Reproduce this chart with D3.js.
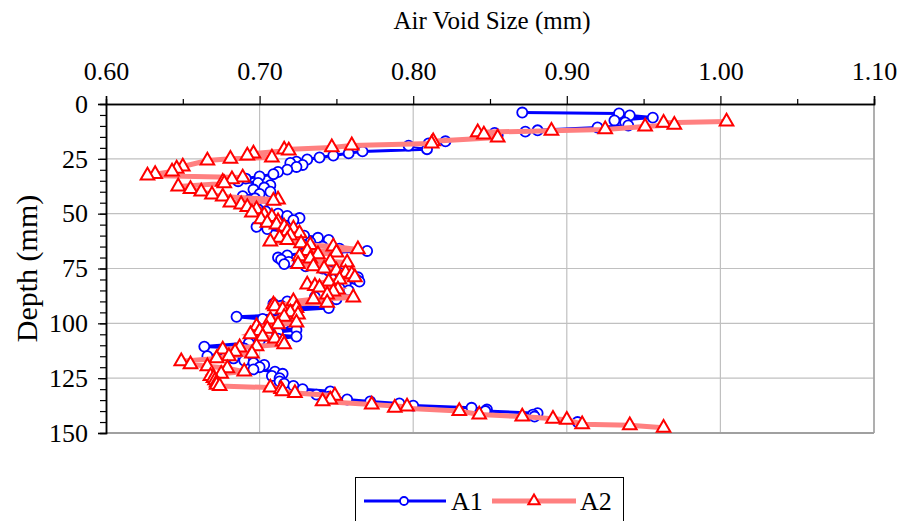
<!DOCTYPE html>
<html>
<head>
<meta charset="utf-8">
<script src="https://cdn.jsdelivr.net/npm/d3@7"></script>
<style>
body{margin:0;background:#fff;}
text{font-family:"Liberation Serif","Times New Roman",serif;fill:#000;}
</style>
</head>
<body>
<div id="plot"></div>
<script>
// depth (mm) and air void size (mm) for core A1
var a1Depth = [3.9,4.3,5.2,6.2,7.5,8.4,9.8,10.7,12.0,12.6,13.2,14.3,17.0,18.0,19.0,20.6,21.6,22.5,23.5,24.4,25.3,26.3,26.9,27.8,28.7,29.9,31.0,32.0,33.0,34.0,35.2,36.0,37.0,38.1,39.0,40.0,41.0,42.0,43.0,44.0,45.0,46.0,47.0,48.0,49.0,50.0,51.0,52.0,53.0,54.0,55.0,56.0,57.0,58.0,59.0,60.0,61.0,62.0,63.0,64.0,65.0,66.0,67.0,68.0,69.0,70.0,71.0,72.0,73.0,74.0,75.0,76.0,77.0,78.0,79.0,80.0,81.0,82.0,83.0,84.0,85.0,86.0,87.0,88.0,89.0,90.0,91.0,92.0,93.0,94.0,95.0,96.0,97.0,98.0,99.0,100.0,101.0,102.0,103.0,104.0,105.0,106.0,107.0,108.0,109.0,110.6,111.5,112.5,113.5,115.0,116.0,117.0,118.0,119.0,120.0,121.0,122.0,123.0,124.0,125.0,126.5,127.5,128.5,130.0,131.0,132.5,133.5,134.7,135.6,136.5,137.5,138.5,139.3,140.0,141.0,141.6,142.5,145.0];
var a1Size = [0.871,0.934,0.941,0.956,0.931,0.938,0.940,0.920,0.881,0.873,0.853,0.855,0.821,0.810,0.797,0.809,0.767,0.758,0.748,0.739,0.731,0.724,0.720,0.728,0.724,0.718,0.712,0.709,0.700,0.691,0.686,0.699,0.707,0.703,0.696,0.707,0.700,0.689,0.697,0.693,0.688,0.696,0.702,0.699,0.704,0.712,0.718,0.726,0.722,0.712,0.700,0.698,0.705,0.716,0.722,0.729,0.738,0.745,0.733,0.728,0.741,0.752,0.770,0.729,0.718,0.712,0.714,0.719,0.716,0.730,0.741,0.745,0.752,0.760,0.764,0.763,0.765,0.756,0.749,0.752,0.758,0.745,0.740,0.736,0.750,0.718,0.709,0.714,0.745,0.722,0.715,0.719,0.685,0.702,0.710,0.716,0.708,0.712,0.724,0.712,0.705,0.724,0.712,0.700,0.693,0.664,0.690,0.683,0.678,0.666,0.683,0.690,0.696,0.703,0.700,0.696,0.710,0.715,0.708,0.713,0.713,0.716,0.722,0.728,0.746,0.737,0.745,0.757,0.772,0.791,0.800,0.838,0.848,0.847,0.881,0.878,0.879,0.907];

// depth (mm) and air void size (mm) for core A2
var a2Depth = [8.0,8.6,9.5,10.3,11.6,12.2,12.9,13.9,15.3,17.0,18.0,18.9,19.8,20.8,21.2,22.6,23.5,24.4,25.0,25.8,28.5,29.5,30.8,32.0,32.6,33.5,34.4,35.5,36.2,37.6,38.8,39.9,41.3,42.2,43.6,44.2,44.9,45.8,47.0,48.0,49.5,50.5,51.5,52.6,53.5,54.2,55.0,56.0,56.8,58.0,59.0,60.0,61.0,62.0,62.7,63.5,64.3,65.0,66.3,67.0,67.7,68.5,69.5,70.5,71.8,72.3,73.0,74.0,75.0,76.0,77.0,77.7,79.0,80.0,81.0,82.3,83.0,83.7,84.6,85.5,86.9,88.2,89.0,90.0,90.6,91.5,92.3,93.0,93.7,95.0,96.0,97.0,98.3,99.7,100.5,101.4,102.5,103.5,105.0,106.0,107.0,108.3,109.6,110.5,111.0,112.0,113.0,113.8,115.0,116.0,117.3,118.7,119.6,120.5,122.0,123.0,124.0,125.0,126.0,127.0,128.0,128.6,129.3,130.0,131.0,131.8,133.0,134.8,135.6,137.0,138.0,138.5,140.0,141.6,142.5,143.5,144.0,146.0,146.5,147.6];
var a2Size = [1.004,0.963,0.970,0.951,0.925,0.890,0.842,0.846,0.855,0.813,0.812,0.760,0.747,0.716,0.719,0.696,0.692,0.708,0.681,0.666,0.650,0.646,0.643,0.632,0.627,0.689,0.682,0.676,0.677,0.647,0.655,0.662,0.669,0.676,0.712,0.709,0.681,0.688,0.692,0.698,0.695,0.703,0.708,0.701,0.712,0.705,0.711,0.716,0.722,0.718,0.726,0.720,0.713,0.718,0.707,0.727,0.733,0.748,0.764,0.731,0.750,0.738,0.726,0.733,0.746,0.757,0.725,0.735,0.742,0.750,0.756,0.760,0.762,0.752,0.745,0.731,0.736,0.739,0.751,0.748,0.744,0.761,0.735,0.722,0.744,0.709,0.710,0.724,0.715,0.720,0.725,0.716,0.707,0.724,0.712,0.698,0.705,0.700,0.694,0.702,0.710,0.715,0.716,0.698,0.687,0.676,0.684,0.695,0.680,0.672,0.649,0.655,0.666,0.679,0.690,0.675,0.668,0.670,0.671,0.672,0.672,0.674,0.707,0.714,0.715,0.723,0.749,0.746,0.741,0.773,0.796,0.788,0.830,0.843,0.871,0.891,0.900,0.910,0.941,0.963];

var xTicks = [0.60,0.70,0.80,0.90,1.00,1.10];
var yTicks = [0,25,50,75,100,125,150];
var seriesNames = ['A1','A2'];

var W = 898, H = 521;
var margin = {t:104, r:24, b:88, l:106};
var width = W - margin.l - margin.r,
    height = H - margin.t - margin.b;

var svg = d3.select('#plot').append('svg')
    .attr('width', W)
    .attr('height', H);

var plot = svg.append('g')
    .attr('transform','translate('+margin.l+','+margin.t+')');

var x = d3.scaleLinear().domain([0.6,1.1]).range([0,width]);
var y = d3.scaleLinear().domain([0,150]).range([0,height]);

// gridlines
plot.selectAll('.vgrid').data(xTicks.slice(1)).enter().append('line')
    .attr('x1', d => x(d)).attr('x2', d => x(d))
    .attr('y1', 0).attr('y2', height)
    .attr('stroke', '#c0c0c0').attr('stroke-width', 1.2);
plot.selectAll('.hgrid').data(yTicks.slice(1)).enter().append('line')
    .attr('x1', 0).attr('x2', width)
    .attr('y1', d => y(d)).attr('y2', d => y(d))
    .attr('stroke', '#c0c0c0').attr('stroke-width', 1.2);
// bottom border is a bit heavier
plot.append('line').attr('x1',0).attr('x2',width).attr('y1',height).attr('y2',height)
    .attr('stroke','#a0a0a0').attr('stroke-width',2);
plot.append('line').attr('x1',width).attr('x2',width).attr('y1',0).attr('y2',height)
    .attr('stroke','#a0a0a0').attr('stroke-width',1.5);

// axes on top and left
var xMinor = d3.axisTop(x).tickValues(d3.range(0.65,1.1,0.1)).tickSize(5).tickFormat('');
var xMajor = d3.axisTop(x).tickValues(xTicks).tickSize(8).tickPadding(16).tickFormat(d3.format('.2f'));
var yMinor = d3.axisLeft(y).tickValues(d3.range(5,150,5)).tickSize(6).tickFormat('');
var yMajor = d3.axisLeft(y).tickValues(yTicks).tickSize(8).tickPadding(10);

[xMinor, xMajor, yMinor, yMajor].forEach(function(a){
    var g = plot.append('g').call(a);
    g.attr('font-size', null).attr('font-family', null);
    g.select('.domain').attr('stroke','#000').attr('stroke-width',1.5);
    g.selectAll('.tick line').attr('stroke','#000').attr('stroke-width',1.2);
    g.selectAll('text').style('font-size','26px').style('font-family','"Liberation Serif",serif');
});

// titles
svg.append('text')
    .attr('x', 492).attr('y', 29)
    .attr('text-anchor','middle')
    .style('font-size', '25px')
    .text('Air Void Size (mm)');
svg.append('text')
    .attr('transform','translate(37,'+(margin.t+height/2)+') rotate(-90)')
    .attr('text-anchor','middle')
    .style('font-size', '30px')
    .text('Depth (mm)');

// data series
var a1 = a1Depth.map((d,i) => ({d:d, v:a1Size[i]}));
var a2 = a2Depth.map((d,i) => ({d:d, v:a2Size[i]}));

var line = d3.line().x(p => x(p.v)).y(p => y(p.d));
var circle = d3.symbol().type(d3.symbolCircle).size(80);
var tri = d3.symbol().type(d3.symbolTriangle).size(80);

plot.append('path').datum(a1).attr('d', line)
    .attr('fill','none').attr('stroke','#0000ff').attr('stroke-width',3);
plot.selectAll('.m1').data(a1).enter().append('path')
    .attr('d', circle)
    .attr('transform', p => 'translate('+x(p.v)+','+y(p.d)+')')
    .attr('fill','#fff').attr('stroke','#0000ff').attr('stroke-width',1.8);

plot.append('path').datum(a2).attr('d', line)
    .attr('fill','none').attr('stroke','#ff8080').attr('stroke-width',5);
plot.selectAll('.m2').data(a2).enter().append('path')
    .attr('d', tri)
    .attr('transform', p => 'translate('+x(p.v)+','+y(p.d)+')')
    .attr('fill','#fff').attr('stroke','#ff0000').attr('stroke-width',2);

// legend
var lg = svg.append('g');
lg.append('rect').attr('x',355.5).attr('y',477.5).attr('width',268).attr('height',50)
    .attr('fill','#fff').attr('stroke','#000').attr('stroke-width',1);
lg.append('line').attr('x1',364).attr('x2',446).attr('y1',501).attr('y2',501)
    .attr('stroke','#0000ff').attr('stroke-width',3);
lg.append('path').attr('d', d3.symbol().type(d3.symbolCircle).size(50))
    .attr('transform','translate(404,501)')
    .attr('fill','#fff').attr('stroke','#0000ff').attr('stroke-width',1.8);
lg.append('text').attr('x',451).attr('y',510).style('font-size','26px').text(seriesNames[0]);
lg.append('line').attr('x1',492).attr('x2',576).attr('y1',501).attr('y2',501)
    .attr('stroke','#ff8080').attr('stroke-width',5);
lg.append('path').attr('d', d3.symbol().type(d3.symbolTriangle).size(55))
    .attr('transform','translate(534,501)')
    .attr('fill','#fff').attr('stroke','#ff0000').attr('stroke-width',2);
lg.append('text').attr('x',580).attr('y',510).style('font-size','26px').text(seriesNames[1]);
</script>
</body>
</html>
